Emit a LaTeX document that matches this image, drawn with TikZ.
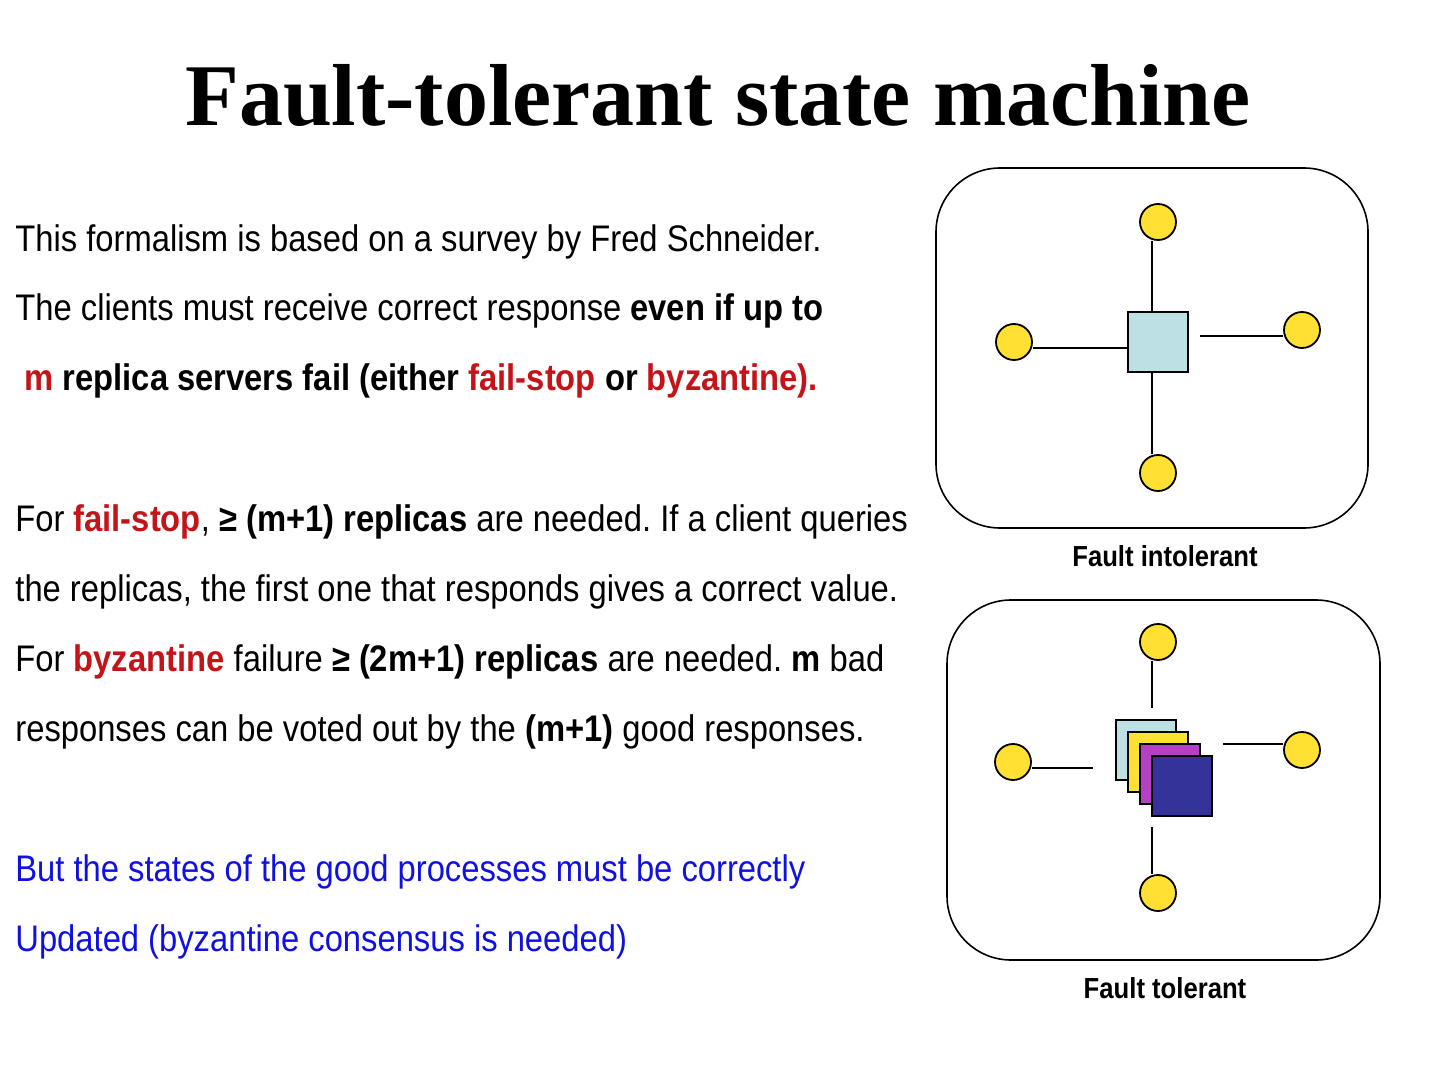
\documentclass[tikz,border=0pt]{standalone}
\usepackage{fontspec}
\setmainfont{Liberation Sans}[FakeStretch=0.885]
\newfontfamily\titlefont{Liberation Serif}
\definecolor{hlred}{HTML}{C4141A}
\definecolor{hlblue}{HTML}{1010E0}
\definecolor{cyel}{HTML}{FFE033}
\definecolor{clblue}{HTML}{BCE0E4}
\definecolor{cmag}{HTML}{B440C4}
\definecolor{cdblue}{HTML}{333399}
\newcommand{\rd}[1]{\textcolor{hlred}{#1}}
\frenchspacing
\begin{document}
\begin{tikzpicture}[x=0.5pt,y=-0.5pt,
  txt/.style={anchor=base west, inner sep=0pt, font=\fontsize{18.5}{18.5}\selectfont},
  lbl/.style={anchor=base, inner sep=0pt, font=\fontsize{14.5}{14.5}\selectfont\bfseries},
  client/.style={circle, draw=black, line width=0.9pt, fill=cyel, minimum size=18pt, inner sep=0pt},
  server/.style={rectangle, draw=black, line width=0.9pt, minimum size=30pt, inner sep=0pt},
  frame/.style={draw=black, line width=0.8pt, rounded corners=32pt},
  link/.style={draw=black, line width=1pt}]
\useasboundingbox (0,0) rectangle (1440,1080);

% title
\node[anchor=base, inner sep=0pt, font=\titlefont\bfseries\fontsize{44}{44}\selectfont] (title) at (718,126) {Fault-tolerant state machine};

% text
\node[txt] (l1) at (15,252) {This formalism is based on a survey by Fred Schneider.};
\node[txt] (l2) at (15,321) {The clients must receive correct response \textbf{even if up to}};
\node[txt] (l3) at (15,391) {\textbf{\ \rd{m} replica servers fail (either \rd{fail-stop} or \rd{byzantine).}}};
\node[txt] (l4) at (15,531) {For \textbf{\rd{fail-stop}}, \textbf{≥ (m+1) replicas} are needed. If a client queries};
\node[txt] (l5) at (15,601) {the replicas, the first one that responds gives a correct value.};
\node[txt] (l6) at (15,671) {For \textbf{\rd{byzantine}} failure \textbf{≥ (2m+1) replicas} are needed. \textbf{m} bad};
\node[txt] (l7) at (15,741) {responses can be voted out by the \textbf{(m+1)} good responses.};
\node[txt, text=hlblue] (l8) at (15,881) {But the states of the good processes must be correctly};
\node[txt, text=hlblue] (l9) at (15,951) {Updated (byzantine consensus is needed)};

% diagram 1: fault intolerant
\draw[frame] (936,168) rectangle (1368,528);
\node[server, fill=clblue] (sq1) at (1158,342) {};
\node[client] (top1) at (1158,222) {};
\node[client] (bot1) at (1158,473) {};
\node[client] (left1) at (1014,342) {};
\node[client] (right1) at (1302,330) {};
\draw[link] ([xshift=-3pt]top1.south) -- ([xshift=-3pt]sq1.north);
\draw[link] ([xshift=-3pt]sq1.south) -- ([xshift=-3pt]bot1.north);
\draw[link] ([yshift=-3pt]left1.east) -- ([yshift=-3pt]left1.east -| sq1.west);
\draw[link] ([yshift=-3pt]right1.west) -- ([yshift=-3pt,xshift=5.5pt]right1.west -| sq1.east);
\node[lbl] (lab1) at (1165,566) {Fault intolerant};

% diagram 2: fault tolerant
\draw[frame] (947,600) rectangle (1380,960);
\node[server, fill=clblue] (s1) at (1146,750) {};
\node[server, fill=cyel] (s2) at (1158,762) {};
\node[server, fill=cmag] (s3) at (1170,774) {};
\node[server, fill=cdblue] (s4) at (1182,786) {};
\node[client] (top2) at (1158,642) {};
\node[client] (bot2) at (1158,893) {};
\node[client] (left2) at (1013,762) {};
\node[client] (right2) at (1302,750) {};
\coordinate (ct2) at (1152,708);
\coordinate (cb2) at (1152,827);
\coordinate (cl2) at (1093,768);
\coordinate (cr2) at (1223,744);
\draw[link] ([xshift=-3pt]top2.south) -- (ct2);
\draw[link] (cb2) -- ([xshift=-3pt]bot2.north);
\draw[link] ([yshift=-3pt]left2.east) -- (cl2);
\draw[link] ([yshift=3pt]right2.west) -- (cr2);
\node[lbl] (lab2) at (1165,998) {Fault tolerant};
\end{tikzpicture}
\end{document}
